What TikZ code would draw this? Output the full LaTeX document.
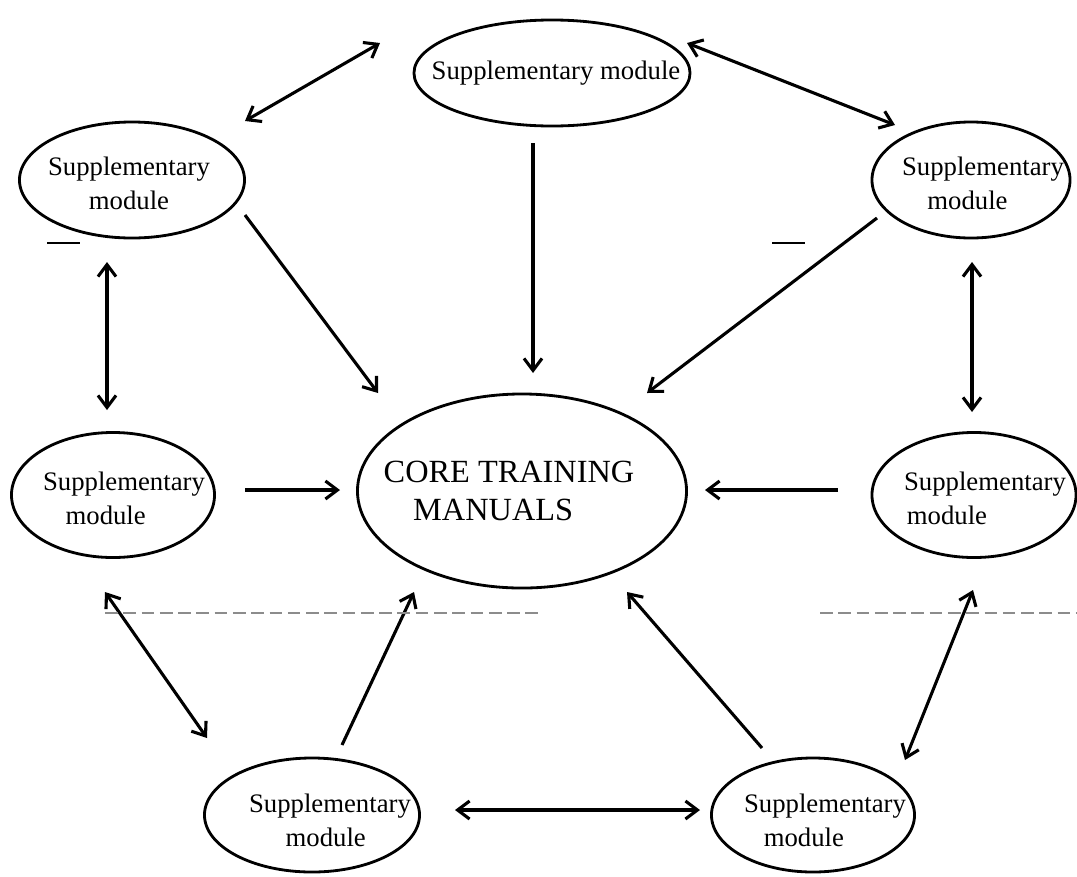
\documentclass[tikz,border=0pt]{standalone}
\usepackage{fontspec}
\setmainfont{Liberation Serif}
\usetikzlibrary{arrows.meta, shapes.geometric}

\tikzset{
  module/.style={draw, ellipse, line width=2pt, inner sep=0pt},
  modtext/.style={inner sep=0pt, align=left, font=\fontsize{19}{24}\selectfont},
  oneway/.style={-{Straight Barb[length=3mm, width=4.5mm]}, line width=2.2pt},
  twoway/.style={{Straight Barb[length=3mm, width=4.5mm]}-{Straight Barb[length=3mm, width=4.5mm]}, line width=2.2pt},
}

\begin{document}
\begin{tikzpicture}[x=0.025cm, y=-0.025cm]

\fill[white] (0,0) rectangle (1077,876);
\useasboundingbox (0,0) rectangle (1077,876);

% Core in the middle
\node[module, minimum width=8.225cm, minimum height=4.85cm] (core) at (522,491) {};
\node[modtext, font=\fontsize{23}{27}\selectfont] (core-txt) at ([shift={(-13,0)}]core.center)
  {CORE TRAINING\\\hspace{21pt}MANUALS};

% Supplementary modules, clockwise from the top
\node[module, minimum width=6.9cm, minimum height=2.65cm] (top) at (552,73) {};
\node[module, minimum width=4.95cm, minimum height=2.9cm] (tr) at (971,180) {};
\node[module, minimum width=5.1cm, minimum height=3.125cm] (mr) at (974,495) {};
\node[module, minimum width=5.075cm, minimum height=2.85cm] (br) at (813,815) {};
\node[module, minimum width=5.375cm, minimum height=2.85cm] (bl) at (312,815) {};
\node[module, minimum width=5.075cm, minimum height=3.125cm] (ml) at (113,495) {};
\node[module, minimum width=5.625cm, minimum height=2.9cm] (tl) at (132,180) {};

\node[modtext] (top-txt) at ([shift={(4,0)}]top.center) {Supplementary module};
\node[modtext] (tr-txt) at ([shift={(12,3)}]tr.center) {Supplementary\\\hspace{18pt}module};
\node[modtext] (mr-txt) at ([shift={(11,3)}]mr.center) {Supplementary\\\hspace{2pt}module};
\node[modtext] (br-txt) at ([shift={(12,5)}]br.center) {Supplementary\\\hspace{14pt}module};
\node[modtext] (bl-txt) at ([shift={(18,5)}]bl.center) {Supplementary\\\hspace{26pt}module};
\node[modtext] (ml-txt) at ([shift={(11,3)}]ml.center) {Supplementary\\\hspace{16pt}module};
\node[modtext, align=center] (tl-txt) at ([shift={(-3,3)}]tl.center) {Supplementary\\module};

% Into the core
\draw[oneway] ([shift={(-19,70)}]top.center) -- ([shift={(11,-118)}]core.center);
\draw[oneway] ([shift={(113,35)}]tl.center) -- ([shift={(-144,-98)}]core.center);
\draw[oneway] ([shift={(-94,38)}]tr.center) -- ([shift={(125,-98)}]core.center);
\draw[oneway] ([shift={(132,-5)}]ml.center) -- ([shift={(-182,-1)}]core.center);
\draw[oneway] ([shift={(-136,-5)}]mr.center) -- ([shift={(183,-1)}]core.center);
\draw[oneway] ([shift={(30,-70)}]bl.center) -- ([shift={(-108,101)}]core.center);
\draw[oneway] ([shift={(-51,-67)}]br.center) -- ([shift={(105,101)}]core.center);

% Round the ring
\draw[twoway] ([shift={(113,-59)}]tl.center) -- ([shift={(-172,-30)}]top.center);
\draw[twoway] ([shift={(135,-30)}]top.center) -- ([shift={(-76,-55)}]tr.center);
\draw[twoway] ([shift={(1,82)}]tr.center) -- ([shift={(-2,-83)}]mr.center);
\draw[twoway] ([shift={(-1,95)}]mr.center) -- ([shift={(92,-55)}]br.center);
\draw[twoway] ([shift={(-113,-5)}]br.center) -- ([shift={(143,-5)}]bl.center);
\draw[twoway] ([shift={(-105,-77)}]bl.center) -- ([shift={(-8,97)}]ml.center);
\draw[twoway] ([shift={(-6,-85)}]ml.center) -- ([shift={(-25,82)}]tl.center);

% marks left on the page
\draw[line width=1pt] (47,243) -- (80,243);
\draw[line width=1pt] (772,243) -- (805,243);
\draw[black!45, line width=0.8pt, dash pattern=on 9pt off 4pt] (105,613) -- (542,613);
\draw[black!45, line width=0.8pt, dash pattern=on 9pt off 4pt] (820,613) -- (1077,613);

\end{tikzpicture}
\end{document}
